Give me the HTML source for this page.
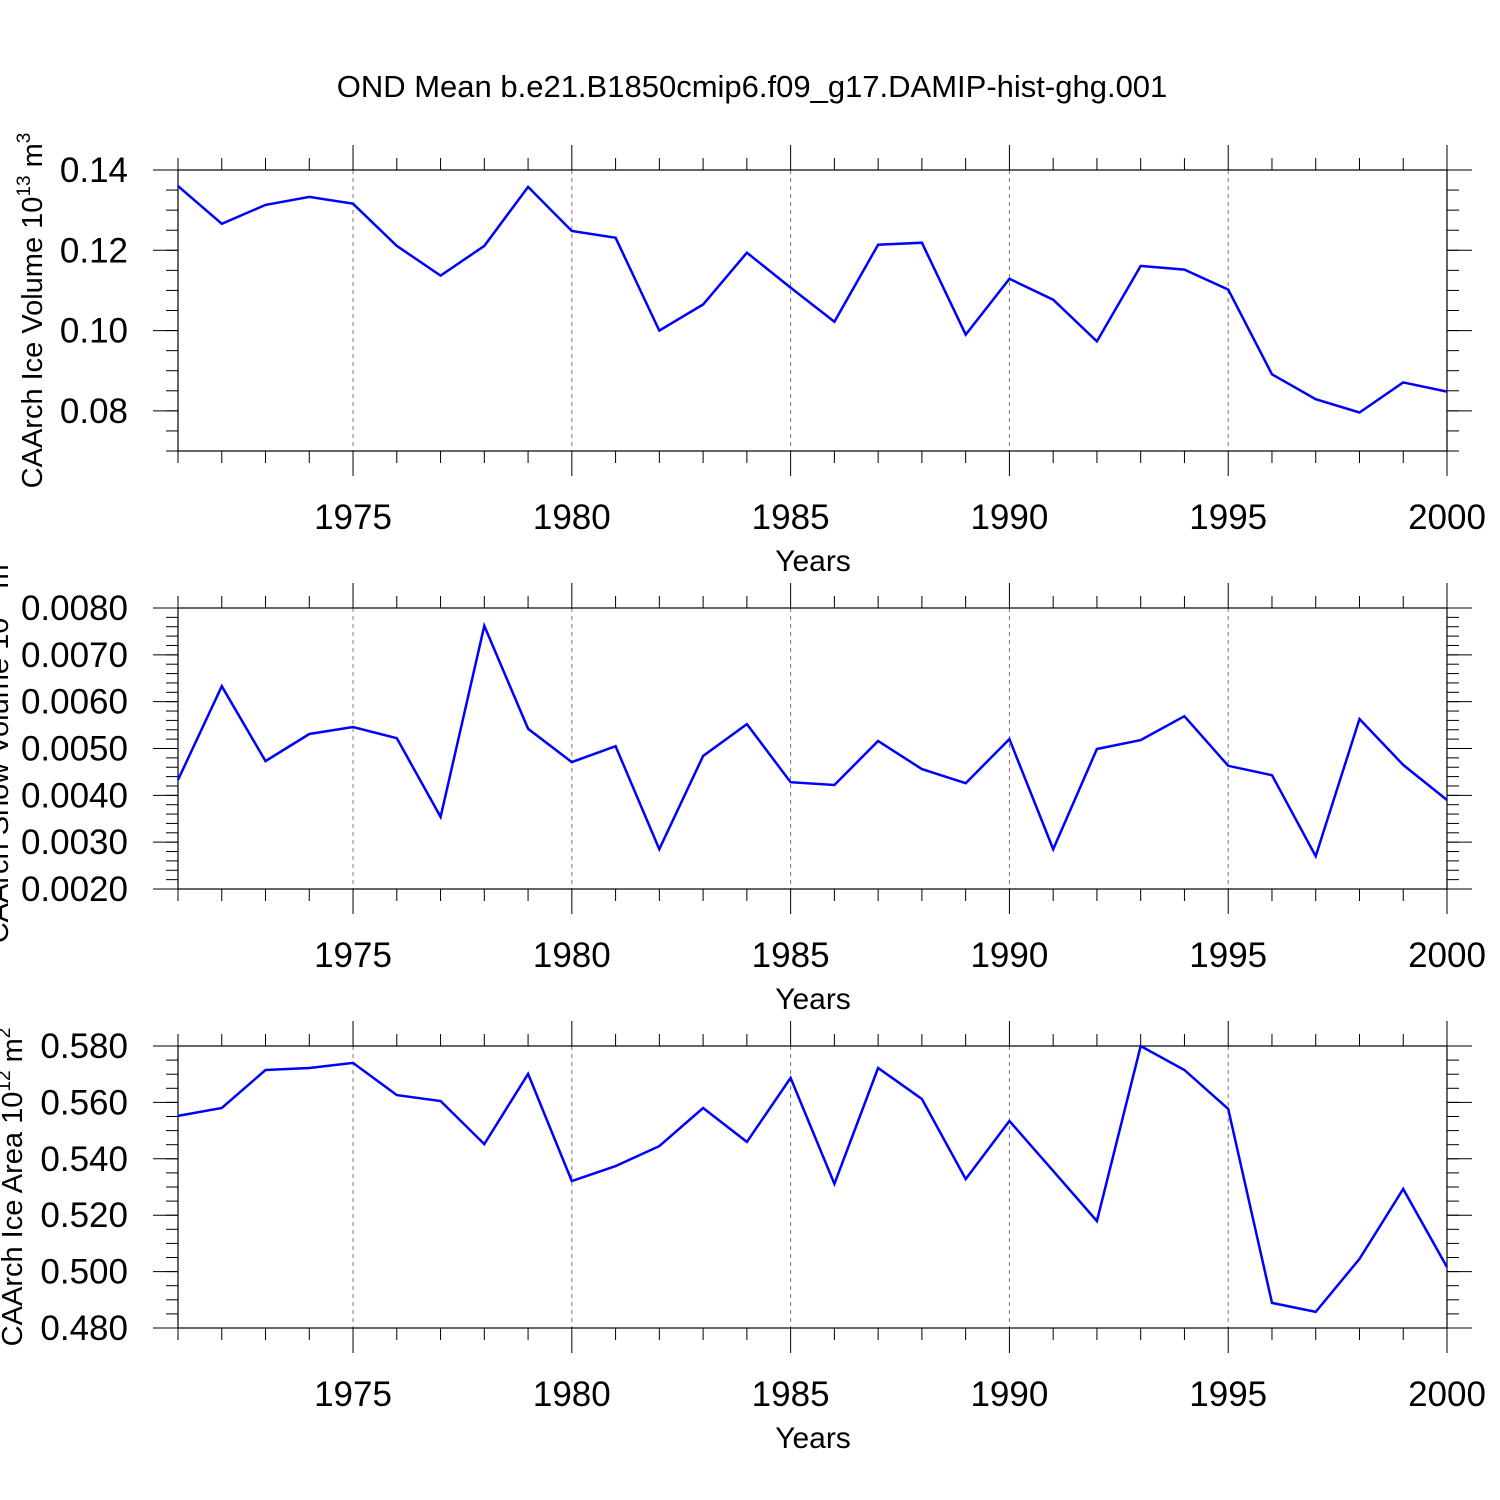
<!DOCTYPE html>
<html><head><meta charset="utf-8"><style>
html,body{margin:0;padding:0;background:#fff;}
svg{display:block;font-family:"Liberation Sans",sans-serif;}
</style></head><body>
<svg id="c" width="1500" height="1500" viewBox="0 0 1500 1500">
<text x="752" y="97" font-size="31" text-anchor="middle">OND Mean b.e21.B1850cmip6.f09_g17.DAMIP-hist-ghg.001</text>
</svg>
<script>
const years = [1971,1972,1973,1974,1975,1976,1977,1978,1979,1980,1981,1982,1983,1984,1985,1986,1987,1988,1989,1990,1991,1992,1993,1994,1995,1996,1997,1998,1999,2000];
const iceVolume = [0.1360,0.1266,0.1313,0.1333,0.1316,0.1211,0.1137,0.1211,0.1358,0.1248,0.1231,0.1000,0.1065,0.1194,0.1107,0.1022,0.1214,0.1219,0.0990,0.1129,0.1077,0.0973,0.1161,0.1152,0.1102,0.0891,0.0829,0.0796,0.0871,0.0848];
const snowVolume = [0.00433,0.00633,0.00473,0.00531,0.00546,0.00522,0.00354,0.00762,0.00542,0.00471,0.00505,0.00285,0.00484,0.00552,0.00428,0.00422,0.00516,0.00456,0.00426,0.00520,0.00285,0.00499,0.00518,0.00569,0.00463,0.00443,0.00270,0.00563,0.00465,0.00390];
const iceArea = [0.5552,0.5580,0.5715,0.5722,0.5740,0.5626,0.5605,0.5452,0.5701,0.5321,0.5374,0.5445,0.5580,0.5460,0.5687,0.5311,0.5722,0.5612,0.5328,0.5534,0.5357,0.5179,0.5800,0.5715,0.5577,0.4889,0.4857,0.5045,0.5293,0.5016];
const xTickLabels = ["1975","1980","1985","1990","1995","2000"];
const volTicks = ["0.08","0.10","0.12","0.14"];
const snowTicks = ["0.0020","0.0030","0.0040","0.0050","0.0060","0.0070","0.0080"];
const areaTicks = ["0.480","0.500","0.520","0.540","0.560","0.580"];

const NS="http://www.w3.org/2000/svg";
const svg=document.getElementById('c');
const X0=178,X1=1447,xMin=1971,xMax=2000;
function xs(v){return X0+(v-xMin)/(xMax-xMin)*(X1-X0);}
function mk(tag,attrs,parent){const e=document.createElementNS(NS,tag);for(const k in attrs)e.setAttribute(k,attrs[k]);(parent||svg).appendChild(e);return e;}

const panels=[
 {name:'ice-volume',data:iceVolume,top:170,bot:451,yMin:0.07,yMax:0.14,ticks:volTicks,minor:0.005,label:'CAArch Ice Volume 10',sup:'13',unit:' m',usup:'3',lx:42},
 {name:'snow-volume',data:snowVolume,top:608,bot:889,yMin:0.002,yMax:0.008,ticks:snowTicks,minor:0.0002,label:'CAArch Snow Volume 10',sup:'13',unit:' m',usup:'3',lx:8},
 {name:'ice-area',data:iceArea,top:1046,bot:1328,yMin:0.48,yMax:0.58,ticks:areaTicks,minor:0.005,label:'CAArch Ice Area 10',sup:'12',unit:' m',usup:'2',lx:22}
];
panels.forEach(p=>{
 const g=mk('g',{});
 
 
 const ys=v=>p.bot-(v-p.yMin)/(p.yMax-p.yMin)*(p.bot-p.top);
 for(let y=1975;y<=1995;y+=5){
  const l=mk('line',{x1:xs(y),x2:xs(y),y1:p.top,y2:p.bot,stroke:'#777','stroke-width':1,'stroke-dasharray':'4,4'},g);
  
  
 }
 const fr=mk('rect',{x:X0,y:p.top,width:X1-X0,height:p.bot-p.top,fill:'none',stroke:'#000','stroke-width':1.2},g);
 
 
 years.forEach(y=>{
  const len=(y%5===0)?25:12;const x=xs(y);
  mk('line',{x1:x,x2:x,y1:p.bot,y2:p.bot+len,stroke:'#000','stroke-width':1},g);
  mk('line',{x1:x,x2:x,y1:p.top,y2:p.top-len,stroke:'#000','stroke-width':1},g);
 });
 xTickLabels.forEach(t=>{
  const tx=mk('text',{x:xs(+t),y:p.bot+78,'font-size':35,'text-anchor':'middle'},g);
  tx.textContent=t;
  
  
 });
 const xt=mk('text',{x:813,y:p.bot+120,'font-size':30,'text-anchor':'middle'},g);
 xt.textContent='Years';
 
 
 const n=Math.round((p.yMax-p.yMin)/p.minor);
 for(let i=0;i<=n;i++){
  const y=ys(p.yMin+i*p.minor);
  mk('line',{x1:X0,x2:X0-12,y1:y,y2:y,stroke:'#000','stroke-width':1},g);
  mk('line',{x1:X1,x2:X1+12,y1:y,y2:y,stroke:'#000','stroke-width':1},g);
 }
 p.ticks.forEach(t=>{
  const y=ys(parseFloat(t));
  mk('line',{x1:X0,x2:X0-25,y1:y,y2:y,stroke:'#000','stroke-width':1},g);
  mk('line',{x1:X1,x2:X1+25,y1:y,y2:y,stroke:'#000','stroke-width':1},g);
  const tx=mk('text',{x:128,y:y+12,'font-size':35,'text-anchor':'end'},g);
  tx.textContent=t;
  
  
 });
 const cy=(p.top+p.bot)/2;
 const yt=mk('text',{x:0,y:0,'font-size':29,'text-anchor':'middle',transform:`translate(${p.lx},${cy}) rotate(-90)`},g);
 
 
 const a=document.createElementNS(NS,'tspan');a.textContent=p.label;yt.appendChild(a);
 const b=document.createElementNS(NS,'tspan');b.setAttribute('font-size','19');b.setAttribute('dy','-12');b.textContent=p.sup;yt.appendChild(b);
 const c=document.createElementNS(NS,'tspan');c.setAttribute('dy','12');c.textContent=p.unit;yt.appendChild(c);
 const d=document.createElementNS(NS,'tspan');d.setAttribute('font-size','19');d.setAttribute('dy','-12');d.textContent=p.usup;yt.appendChild(d);
 const pts=p.data.map((v,i)=>xs(years[i]).toFixed(1)+','+ys(v).toFixed(1)).join(' ');
 const pl=mk('polyline',{points:pts,fill:'none',stroke:'#0000ff','stroke-width':2.5,'stroke-linejoin':'miter'},g);
 
 
});
</script>
</body></html>
